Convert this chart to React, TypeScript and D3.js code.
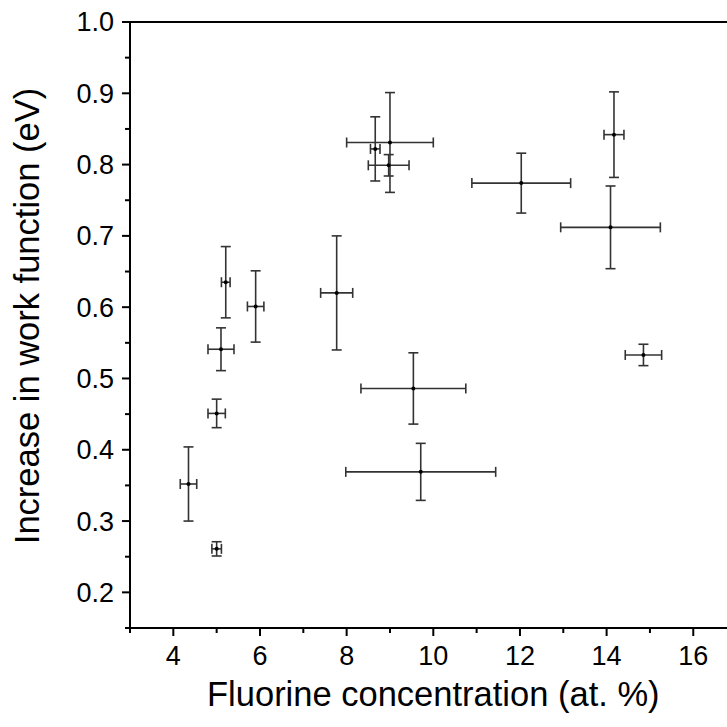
import React from "react";
import * as d3 from "d3";

const xValues = [4.35, 5.0, 5.0, 5.1, 5.21, 5.9, 7.77, 8.66, 9.0, 8.97, 9.54, 9.71, 12.03, 14.17, 14.09, 14.85];
const yValues = [0.352, 0.261, 0.451, 0.541, 0.635, 0.601, 0.62, 0.822, 0.831, 0.799, 0.486, 0.369, 0.774, 0.842, 0.712, 0.533];
const xErrors = [0.19, 0.11, 0.2, 0.3, 0.1, 0.19, 0.37, 0.11, 1.0, 0.47, 1.21, 1.73, 1.14, 0.23, 1.15, 0.42];
const yErrors = [0.052, 0.01, 0.02, 0.03, 0.05, 0.05, 0.08, 0.045, 0.07, 0.015, 0.05, 0.04, 0.042, 0.06, 0.058, 0.015];

const xMajorTicks = [4, 6, 8, 10, 12, 14, 16];
const xMinorTicks = [3, 5, 7, 9, 11, 13, 15, 17];
const yMajorTicks = [0.2, 0.3, 0.4, 0.5, 0.6, 0.7, 0.8, 0.9, 1.0];
const yMinorTicks = [0.15, 0.25, 0.35, 0.45, 0.55, 0.65, 0.75, 0.85, 0.95];

const xTitle = "Fluorine concentration (at. %)";
const yTitle = "Increase in work function (eV)";

const W = 727;
const H = 727;
const FONT = "'Liberation Sans', Arial, Helvetica, sans-serif";

export default function App() {
  const x = d3.scaleLinear().domain([3, 17]).range([130, 736.6]);
  const y = d3.scaleLinear().domain([0.15, 1.0]).range([628, 22]);
  const [x0, x1] = x.range();
  const [yb, yt] = y.range();
  const cap = 5;
  const major = 8;
  const minor = 5;
  const barColor = "#333";

  const points = xValues.map((v, i) => ({
    x: v,
    y: yValues[i],
    xe: xErrors[i],
    ye: yErrors[i],
  }));

  return (
    <svg
      width={W}
      height={H}
      style={{ position: "absolute", left: 0, top: 0, background: "#fff" }}
      fontFamily={FONT}
    >
      <rect x={0} y={0} width={W} height={H} fill="#fff" />
      {/* error bars */}
      <g stroke={barColor} strokeWidth={1.6} fill="none">
        {points.map((p, i) => {
          const cx = x(p.x);
          const cy = y(p.y);
          const xl = x(p.x - p.xe);
          const xr = x(p.x + p.xe);
          const yu = y(p.y + p.ye);
          const yd = y(p.y - p.ye);
          return (
            <g key={i}>
              <line x1={xl} x2={xr} y1={cy} y2={cy} />
              <line x1={xl} x2={xl} y1={cy - cap} y2={cy + cap} />
              <line x1={xr} x2={xr} y1={cy - cap} y2={cy + cap} />
              <line x1={cx} x2={cx} y1={yu} y2={yd} />
              <line x1={cx - cap} x2={cx + cap} y1={yu} y2={yu} />
              <line x1={cx - cap} x2={cx + cap} y1={yd} y2={yd} />
            </g>
          );
        })}
      </g>
      <g fill="#000">
        {points.map((p, i) => (
          <circle key={i} cx={x(p.x)} cy={y(p.y)} r={2} />
        ))}
      </g>
      {/* frame */}
      <g stroke="#000" strokeWidth={2} fill="none">
        <line x1={x0} x2={x0} y1={yt - 1} y2={yb + 1} />
        <line x1={x0 - 1} x2={x1} y1={yb} y2={yb} />
        <line x1={x0 - 1} x2={x1} y1={yt} y2={yt} />
        <line x1={x1} x2={x1} y1={yt} y2={yb} />
        {xMajorTicks.map((t) => (
          <line key={"xM" + t} x1={x(t)} x2={x(t)} y1={yb} y2={yb + major} />
        ))}
        {xMinorTicks.map((t) => (
          <line key={"xm" + t} x1={x(t)} x2={x(t)} y1={yb} y2={yb + minor} />
        ))}
        {yMajorTicks.map((t) => (
          <line key={"yM" + t} x1={x0} x2={x0 - major} y1={y(t)} y2={y(t)} />
        ))}
        {yMinorTicks.map((t) => (
          <line key={"ym" + t} x1={x0} x2={x0 - minor} y1={y(t)} y2={y(t)} />
        ))}
      </g>
      {/* tick labels */}
      <g fontSize={27} fill="#000">
        {xMajorTicks.map((t) => (
          <text key={"xl" + t} x={x(t)} y={665} textAnchor="middle">
            {d3.format("d")(t)}
          </text>
        ))}
        {yMajorTicks.map((t) => (
          <text key={"yl" + t} x={114} y={y(t)} dy="0.35em" textAnchor="end">
            {d3.format(".1f")(t)}
          </text>
        ))}
      </g>
      {/* titles */}
      <text x={(x0 + x1) / 2} y={706} textAnchor="middle" fontSize={34.5} fill="#000">
        {xTitle}
      </text>
      <text
        transform={`translate(39, ${(yb + yt) / 2 - 9}) rotate(-90)`}
        textAnchor="middle"
        fontSize={34.5}
        fill="#000"
      >
        {yTitle}
      </text>
    </svg>
  );
}
